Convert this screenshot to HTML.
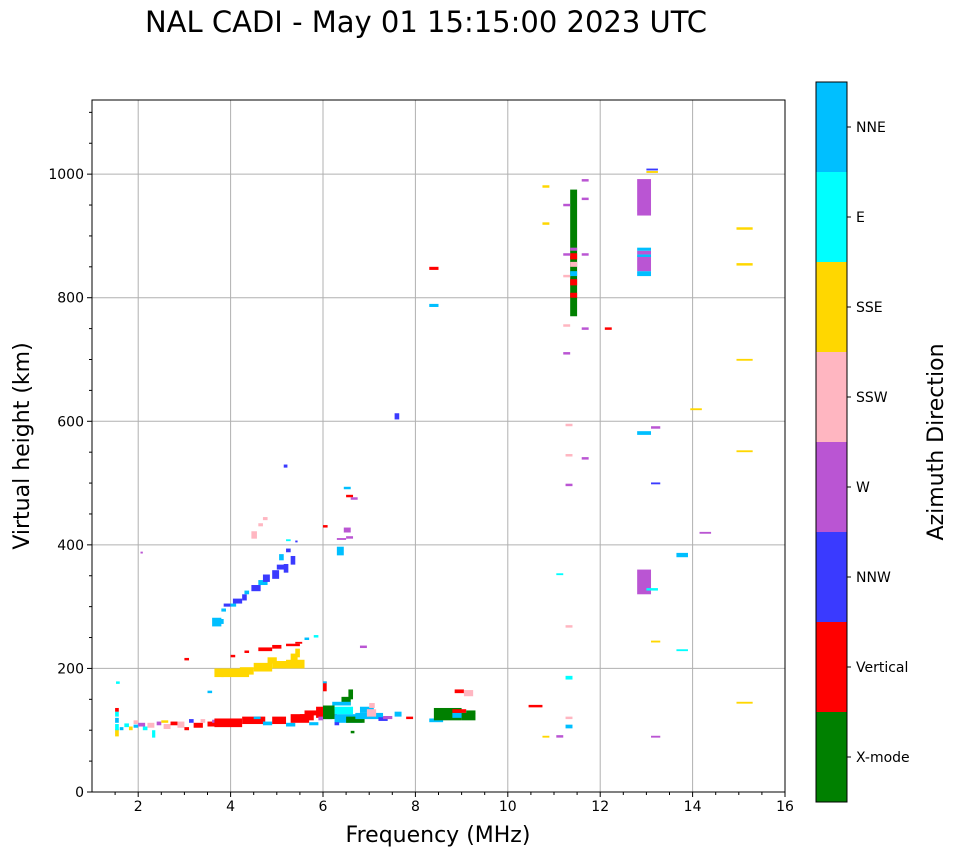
<!DOCTYPE html>
<html><head><meta charset="utf-8"><style>
body{margin:0;background:#fff;font-family:"Liberation Sans",sans-serif}
svg text{font-family:"DejaVu Sans","Liberation Sans",sans-serif}
</style></head><body>
<svg id="chart" width="958" height="857" xmlns="http://www.w3.org/2000/svg">
<text x="426" y="32" font-size="29" text-anchor="middle">NAL CADI - May 01 15:15:00 2023 UTC</text>
<g id="grid"></g>
<g id="marks"></g>
<rect x="92" y="100" width="693" height="692" fill="none" stroke="#000" stroke-width="1"/>
<g id="axes"></g>
<text x="438" y="842" font-size="22" text-anchor="middle">Frequency (MHz)</text>
<text transform="translate(29,446) rotate(-90)" font-size="22" text-anchor="middle">Virtual height (km)</text>
<g id="cbar"></g>
<text transform="translate(943,442) rotate(-90)" font-size="22" text-anchor="middle">Azimuth Direction</text>
</svg>
<script>
const categories=["X-mode","Vertical","NNW","W","SSW","SSE","E","NNE"];
const catColors=["#008000","#ff0000","#3a3aff","#ba55d3","#ffb6c1","#ffd700","#00ffff","#00bfff"];
const xTicks=[2,4,6,8,10,12,14,16];
const yTicks=[0,200,400,600,800,1000];
// echoes: [freqStart MHz, height km, category, freqSpan MHz, heightSpan km]
const echoes=[
[1.5,90,5,.08,12],[1.5,100,6,.08,10],[1.5,112,7,.08,8],[1.5,122,6,.08,8],[1.5,130,1,.08,6],[1.52,175,6,.08,4],
[1.6,100,7,.08,5],[1.7,105,6,.1,6],[1.8,100,5,.08,6],[1.9,110,4,.1,6],[1.9,104,7,.1,5],[2.0,106,3,.15,6],[2.1,100,6,.1,6],
[2.2,104,4,.15,8],[2.3,88,6,.07,12],[2.4,108,3,.1,6],[2.5,112,5,.15,4],[2.55,102,4,.15,8],[2.7,108,1,.15,6],[2.85,104,4,.15,10],
[3.0,100,1,.1,5],[3.1,112,2,.1,6],[3.2,104,1,.2,8],[3.35,112,4,.1,6],[3.5,106,1,.2,8],[3.6,112,3,.1,5],[3.65,105,1,.6,14],
[4.25,110,1,.5,12],[4.7,108,7,.2,6],[4.5,118,7,.15,4],[4.9,110,1,.3,12],[5.2,106,7,.2,6],[5.3,112,1,.4,14],[5.7,108,7,.2,5],
[5.5,116,1,.3,10],[5.6,124,1,.4,8],[5.85,120,1,.2,18],[6.0,118,2,.2,6],[6.2,122,1,.1,12],[5.9,116,3,.1,6],
[6.0,118,0,.25,22],[6.25,112,7,.6,14],[6.25,126,6,.4,12],[6.5,112,0,.4,10],[6.4,140,0,.2,14],[6.55,150,0,.1,16],[6.2,140,7,.4,6],
[6.7,118,7,.6,10],[6.8,128,7,.3,10],[6.95,122,4,.2,12],[7.2,115,2,.2,6],[7.0,136,4,.12,8],[7.3,118,3,.2,5],[7.55,122,7,.15,8],
[6.6,95,0,.08,4],[6.0,163,1,.08,16],[6.0,176,7,.08,3],[6.25,108,2,.1,5],[7.8,118,1,.15,4],
[8.3,113,7,.3,6],[8.4,116,0,.6,20],[8.8,120,7,.4,8],[8.8,128,1,.3,6],[9.0,116,0,.3,12],[9.1,126,0,.2,6],[8.85,160,1,.2,6],[9.05,155,4,.2,10],
[3.0,213,1,.1,4],[3.5,160,7,.1,4],[3.65,186,5,.2,14],[3.8,186,5,.6,14],[4.2,190,5,.3,12],[4.5,195,5,.4,14],[4.9,200,5,.4,12],[5.2,200,5,.4,14],
[4.8,208,5,.2,10],[5.3,210,5,.15,14],[5.4,218,5,.1,14],[4.0,218,1,.1,4],[4.3,225,1,.1,4],[4.6,228,1,.3,6],[4.9,232,1,.2,6],[5.2,236,1,.3,4],[5.4,240,1,.15,3],[5.6,246,7,.1,4],[5.8,250,6,.1,4],
[3.6,268,7,.2,14],[3.75,272,7,.1,8],[3.8,292,7,.1,5],[3.85,300,2,.15,5],[4.0,300,7,.12,5],[4.05,305,2,.2,8],[4.25,310,2,.1,10],[4.3,320,7,.1,6],
[4.45,325,2,.2,10],[4.6,335,7,.2,8],[4.7,340,2,.15,12],[4.9,345,2,.15,14],[5.0,360,2,.2,8],[5.15,355,2,.1,14],[5.3,368,2,.1,14],[5.05,375,7,.1,10],
[5.2,388,2,.1,6],[5.4,404,2,.05,3],[5.2,406,6,.1,3],[5.15,525,2,.08,5],[4.45,410,4,.12,12],[4.6,430,4,.1,5],[4.7,440,4,.1,5],[2.05,386,3,.05,3],
[6.0,428,1,.1,4],[6.3,383,7,.15,14],[6.3,408,3,.2,3],[6.5,410,3,.15,4],[6.45,420,3,.15,8],[6.5,477,1,.15,4],[6.6,473,3,.15,4],[6.45,490,7,.15,4],[6.8,233,3,.15,4],
[7.55,603,2,.1,10],[8.3,845,1,.2,5],[8.3,785,7,.2,5],
[11.35,770,0,.15,205],[11.35,800,1,.15,8],[11.35,820,1,.15,10],[11.35,835,7,.15,8],[11.35,850,4,.15,8],[11.35,862,1,.15,10],[11.35,876,3,.15,5],
[12.8,940,3,.3,52],[12.8,933,3,.3,8],[12.8,835,7,.3,8],[12.8,843,3,.3,25],[12.8,866,7,.3,4],[12.8,870,3,.3,6],[12.8,876,7,.3,5],
[13.0,1002,5,.25,3],[13.0,1006,2,.25,3],[12.8,578,7,.3,6],[12.8,320,3,.3,40],[13.0,326,6,.25,4],[13.1,588,3,.2,4],[13.1,498,2,.2,3],[13.1,242,5,.2,3],[13.1,88,3,.2,3],
[13.65,380,7,.25,7],[13.65,228,6,.25,3],[14.15,418,3,.25,3],[13.95,618,5,.25,3],
[14.95,910,5,.35,4],[14.95,852,5,.35,4],[14.95,698,5,.35,3],[14.95,550,5,.35,3],[14.95,143,5,.35,3],
[10.45,137,1,.3,4],[10.75,978,5,.15,4],[10.75,918,5,.15,4],[10.75,88,5,.15,3],[11.05,351,6,.15,3],
[11.2,948,3,.15,4],[11.2,868,3,.15,4],[11.2,833,4,.15,4],[11.2,753,4,.15,4],[11.2,708,3,.15,4],[11.25,592,4,.15,4],[11.25,543,4,.15,4],[11.25,495,3,.15,4],
[11.25,266,4,.15,4],[11.25,182,6,.15,6],[11.25,118,4,.15,4],[11.25,103,7,.15,6],[11.05,88,3,.15,4],
[11.6,988,3,.15,4],[11.6,958,3,.15,4],[11.6,868,3,.15,4],[11.6,748,3,.15,4],[11.6,538,3,.15,4],[12.1,748,1,.15,4]
];
const X0=92,X1=785,Y0=792,Y1=100,FMIN=1,FMAX=16,HMIN=0,HMAX=1120;
const xs=f=>X0+(f-FMIN)/(FMAX-FMIN)*(X1-X0);
const ys=h=>Y0-(h-HMIN)/(HMAX-HMIN)*(Y0-Y1);
const NS="http://www.w3.org/2000/svg";
function mk(tag,attrs,parent){const e=document.createElementNS(NS,tag);for(const k in attrs)e.setAttribute(k,attrs[k]);parent.appendChild(e);return e;}
const grid=document.getElementById('grid'),axes=document.getElementById('axes'),marks=document.getElementById('marks'),cbar=document.getElementById('cbar');
xTicks.forEach(t=>{const x=xs(t);
 if(t<16){const g=mk('line',{x1:x,x2:x,y1:Y1,y2:Y0,stroke:'#b0b0b0','stroke-width':1},grid);}
 const tk=mk('line',{x1:x,x2:x,y1:Y0,y2:Y0+5,stroke:'#000'},axes);
 const tl=mk('text',{x:x,y:Y0+19,'font-size':14,'text-anchor':'middle'},axes);tl.textContent=t;});
for(let f=1.5;f<16;f+=0.5){if(f%2===0)continue;const m=mk('line',{x1:xs(f),x2:xs(f),y1:Y0,y2:Y0+3,stroke:'#000'},axes);}
yTicks.forEach(t=>{const y=ys(t);
 if(t>0){const g=mk('line',{x1:X0,x2:X1,y1:y,y2:y,stroke:'#b0b0b0','stroke-width':1},grid);}
 const tk=mk('line',{x1:X0-5,x2:X0,y1:y,y2:y,stroke:'#000'},axes);
 const tl=mk('text',{x:X0-8,y:y+5,'font-size':14,'text-anchor':'end'},axes);tl.textContent=t;});
for(let h=50;h<1120;h+=50){if(h%200===0)continue;const m=mk('line',{x1:X0-3,x2:X0,y1:ys(h),y2:ys(h),stroke:'#000'},axes);}
echoes.forEach(d=>{const x=xs(d[0]),x2=xs(d[0]+d[3]),y=ys(d[1]+d[4]),y2=ys(d[1]);
 const r=mk('rect',{x:x,y:y,width:Math.max(1,x2-x),height:Math.max(1,y2-y),fill:catColors[d[2]]},marks);
 });
const CX=816,CW=31,CT=82,CB=802,seg=(CB-CT)/categories.length;
categories.forEach((c,i)=>{const y=CB-(i+1)*seg;
 const r=mk('rect',{x:CX,y:y,width:CW,height:seg,fill:catColors[i]},cbar);
 const tk=mk('line',{x1:CX+CW,x2:CX+CW+4,y1:y+seg/2,y2:y+seg/2,stroke:'#000'},cbar);
 const t=mk('text',{x:856,y:y+seg/2+5,'font-size':14},cbar);t.textContent=c;});
const fr=mk('rect',{x:CX,y:CT,width:CW,height:CB-CT,fill:'none',stroke:'#000'},cbar);
</script>
</body></html>
